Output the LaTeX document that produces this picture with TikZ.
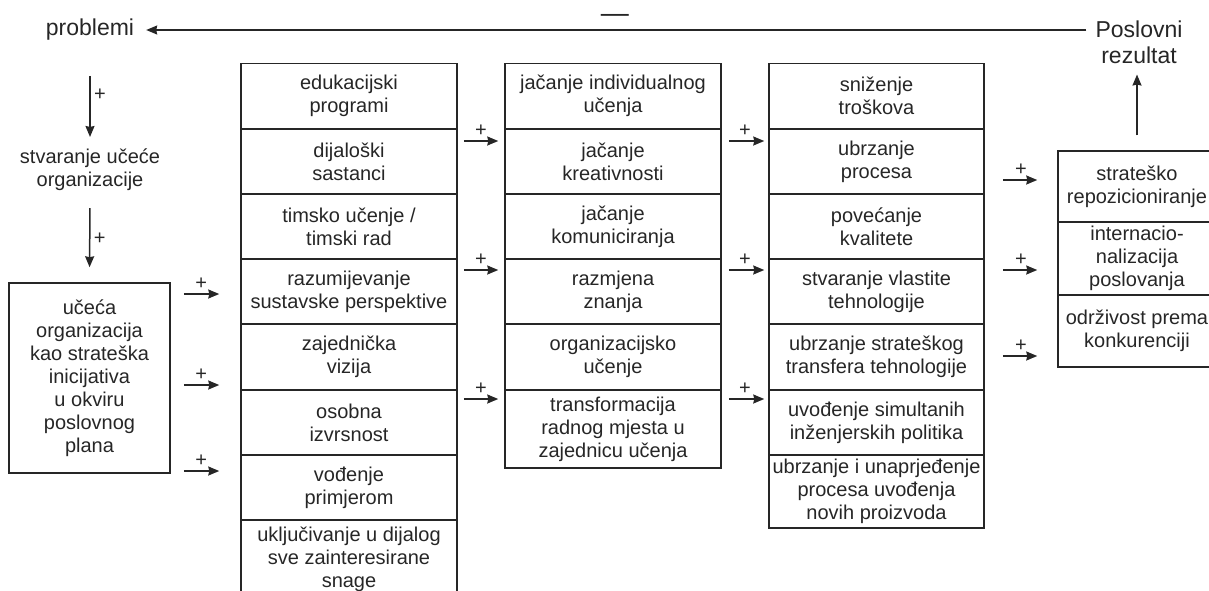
\documentclass[tikz,border=0pt]{standalone}
\usepackage{fontspec}
\setmainfont{Liberation Sans}
\usetikzlibrary{arrows.meta}

\newcommand{\cellfont}{\fontsize{20}{23}\selectfont}
\newcommand{\toplabelfont}{\fontsize{23}{26}\selectfont}

\begin{document}
\begin{tikzpicture}[
    x=1pt, y=-1pt,
    b/.style={rectangle, draw, minimum height=65pt, align=center, inner sep=2pt, font=\cellfont},
    t/.style={align=center, font=\cellfont},
    a/.style={-{Stealth[length=11pt, width=9pt, inset=1pt]}},
    plus/.style={font=\cellfont},
    line width=1.5pt, color=black!85,
]
\useasboundingbox (0,0) rectangle (1209,590);

\node[t, font=\toplabelfont] (prob) at (90,30) {problemi};
\node[t, font=\toplabelfont] (rez) at (1139,42) {Poslovni\\rezultat};
\node[t] (stv) at (90,170) {stvaranje učeće\\organizacije};
\node[b, minimum width=161pt, minimum height=190pt] (org) at (89.5,378) {učeća\\organizacija\\kao strateška\\inicijativa\\u okviru\\poslovnog\\plana};

\node[b, minimum width=216pt] (edu) at (349,96) {edukacijski\\programi};
\node[b, minimum width=216pt] (dij) at (349,161.5) {dijaloški\\sastanci};
\node[b, minimum width=216pt] (tim) at (349,226.5) {timsko učenje /\\timski rad};
\node[b, minimum width=216pt] (raz) at (349,291.5) {razumijevanje\\sustavske perspektive};
\node[b, minimum width=216pt] (viz) at (349,357) {zajednička\\vizija};
\node[b, minimum width=216pt] (izv) at (349,422.5) {osobna\\izvrsnost};
\node[b, minimum width=216pt] (vod) at (349,487.5) {vođenje\\primjerom};
\node[b, minimum width=216pt, minimum height=78pt] (ukl) at (349,559) {uključivanje u dijalog\\sve zainteresirane\\snage};

\node[b, minimum width=216pt] (ind) at (613,96) {jačanje individualnog\\učenja};
\node[b, minimum width=216pt] (kre) at (613,161.5) {jačanje\\kreativnosti};
\node[b, minimum width=216pt] (kom) at (613,226.5) {jačanje\\komuniciranja};
\node[b, minimum width=216pt] (zna) at (613,291.5) {razmjena\\znanja};
\node[b, minimum width=216pt] (oru) at (613,357) {organizacijsko\\učenje};
\node[b, minimum width=216pt, minimum height=78pt] (tra) at (613,429) {transformacija\\radnog mjesta u\\zajednicu učenja};

\node[b, minimum width=215pt] (tro) at (876.5,96) {sniženje\\troškova};
\node[b, minimum width=215pt] (pro) at (876.5,161.5) {ubrzanje\\procesa};
\node[b, minimum width=215pt] (kva) at (876.5,226.5) {povećanje\\kvalitete};
\node[b, minimum width=215pt] (teh) at (876.5,291.5) {stvaranje vlastite\\tehnologije};
\node[b, minimum width=215pt] (tt) at (876.5,357) {ubrzanje strateškog\\transfera tehnologije};
\node[b, minimum width=215pt] (sim) at (876.5,422.5) {uvođenje simultanih\\inženjerskih politika};
\node[b, minimum width=215pt, minimum height=73pt] (npr) at (876.5,491.5) {ubrzanje i unaprjeđenje\\procesa uvođenja\\novih proizvoda};

\node[b, minimum width=158pt, minimum height=71pt] (rep) at (1137,186.5) {strateško\\repozicioniranje};
\node[b, minimum width=158pt, minimum height=73pt] (int) at (1137,258.5) {internacio-\\nalizacija\\poslovanja};
\node[b, minimum width=158pt, minimum height=72pt] (kon) at (1137,331) {održivost prema\\konkurenciji};

% povratna veza
\draw[a, shorten <=5pt, shorten >=8pt] (rez.west |- prob.east) -- (prob.east)
    node[midway, above=3pt, font=\fontsize{28}{28}\selectfont] (neg) {—};
\draw[a, shorten <=15pt, shorten >=7pt] (rep.north) -- (rep.north |- rez.south);

\draw[a, shorten <=31pt, shorten >=8pt] (prob.south) -- (stv.north) node[midway, right, plus] {+};
\draw[a, shorten <=13pt, shorten >=15pt] (stv.south) -- (org.north) node[midway, right, plus] {+};

\draw[a, shorten <=13pt, shorten >=21pt] ([yshift=84pt]org.east) -- ([yshift=84pt]org.east -| raz.west) node[pos=0.44, above, plus] {+};
\draw[a, shorten <=13pt, shorten >=21pt] ([yshift=-7pt]org.east) -- ([yshift=-7pt]org.east -| viz.west) node[pos=0.44, above, plus] {+};
\draw[a, shorten <=13pt, shorten >=21pt] ([yshift=-93pt]org.east) -- ([yshift=-93pt]org.east -| vod.west) node[pos=0.44, above, plus] {+};

\draw[a, shorten <=6pt, shorten >=6pt] ([yshift=20.5pt]dij.east) -- ([yshift=20.5pt]dij.east -| kre.west) node[midway, above, plus] {+};
\draw[a, shorten <=6pt, shorten >=6pt] ([yshift=21.5pt]raz.east) -- ([yshift=21.5pt]raz.east -| zna.west) node[midway, above, plus] {+};
\draw[a, shorten <=6pt, shorten >=6pt] ([yshift=23.5pt]izv.east) -- ([yshift=23.5pt]izv.east -| tra.west) node[midway, above, plus] {+};

\draw[a, shorten <=7pt, shorten >=4pt] ([yshift=20.5pt]kre.east) -- ([yshift=20.5pt]kre.east -| pro.west) node[midway, above, plus] {+};
\draw[a, shorten <=7pt, shorten >=4pt] ([yshift=21.5pt]zna.east) -- ([yshift=21.5pt]zna.east -| teh.west) node[midway, above, plus] {+};
\draw[a, shorten <=7pt, shorten >=4pt] ([yshift=30pt]tra.east) -- ([yshift=30pt]tra.east -| sim.west) node[midway, above, plus] {+};

\draw[a, shorten <=18pt, shorten >=20pt] ([yshift=6.5pt]rep.west -| pro.east) -- ([yshift=6.5pt]rep.west) node[midway, above, plus] {+};
\draw[a, shorten <=18pt, shorten >=20pt] ([yshift=-11.5pt]int.west -| teh.east) -- ([yshift=-11.5pt]int.west) node[midway, above, plus] {+};
\draw[a, shorten <=18pt, shorten >=20pt] ([yshift=-25pt]kon.west -| tt.east) -- ([yshift=-25pt]kon.west) node[midway, above, plus] {+};
\end{tikzpicture}
\end{document}
